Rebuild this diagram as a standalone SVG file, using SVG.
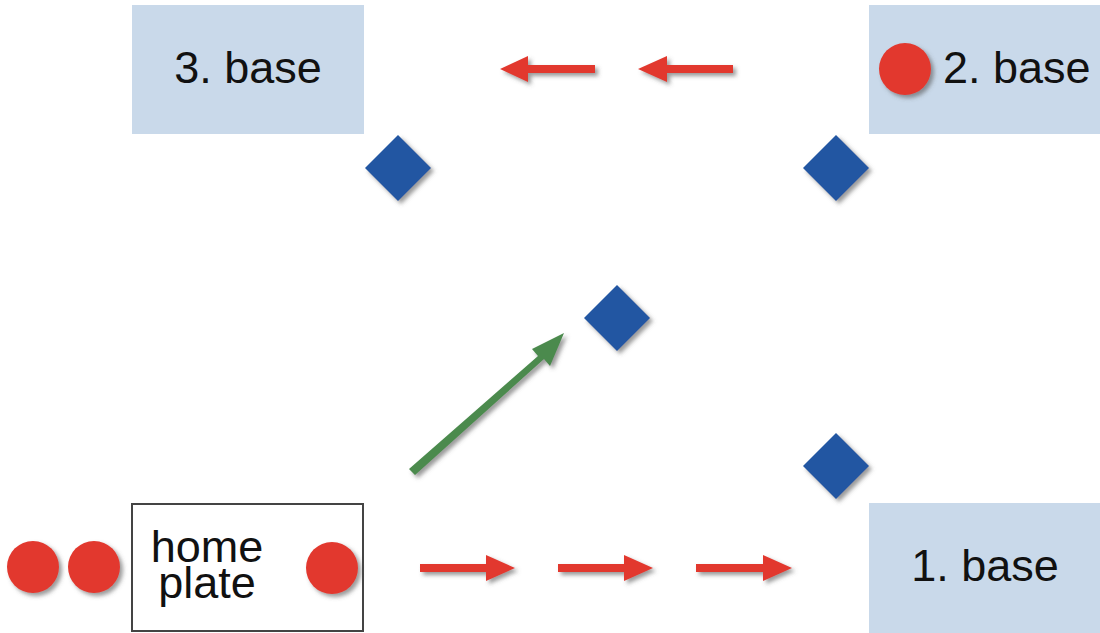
<svg xmlns="http://www.w3.org/2000/svg" width="1100" height="633" viewBox="0 0 1100 633">
<style>
.base{fill:#c9d9ea}
.lbl{font-family:"Liberation Sans",Arial,sans-serif;font-size:45px;fill:#111}
.runner{fill:#e2392f;filter:url(#sh)}
.fielder{fill:#2156a2;filter:url(#sh)}
.red{fill:#e2392f;filter:url(#sh)}
.green{fill:#4b8a4d;filter:url(#sh)}
</style>
<defs>
<filter id="sh" x="-30%" y="-30%" width="160%" height="160%">
<feDropShadow dx="3" dy="3" stdDeviation="2" flood-color="#555" flood-opacity="0.6"/>
</filter>
</defs>
<rect width="1100" height="633" fill="#fff"/>
<g id="base3">
<rect class="base" x="132" y="5" width="232" height="129"/>
<text class="lbl" x="248" y="83" text-anchor="middle">3. base</text>
</g>
<g id="base2">
<rect class="base" x="869" y="5" width="231" height="129"/>
<circle class="runner" cx="905" cy="69" r="26"/>
<text class="lbl" x="943" y="83">2. base</text>
</g>
<g id="base1">
<rect class="base" x="869" y="503" width="231" height="130"/>
<text class="lbl" x="985" y="581" text-anchor="middle">1. base</text>
</g>
<g id="homeplate">
<rect x="132" y="504" width="231" height="127" fill="#fff" stroke="#444" stroke-width="2"/>
<text class="lbl" x="207" y="562" text-anchor="middle">home</text>
<text class="lbl" x="207" y="598" text-anchor="middle">plate</text>
<circle class="runner" cx="332" cy="568" r="26"/>
</g>
<g id="runner1"><circle class="runner" cx="33" cy="567" r="26"/></g>
<g id="runner2"><circle class="runner" cx="94" cy="567" r="26"/></g>
<g id="fielder1"><polygon class="fielder" points="398,135 431,168 398,201 365,168"/></g>
<g id="fielder2"><polygon class="fielder" points="836,135 869,168 836,201 803,168"/></g>
<g id="fielder3"><polygon class="fielder" points="617,285 650,318 617,351 584,318"/></g>
<g id="fielder4"><polygon class="fielder" points="836,433 869,466 836,499 803,466"/></g>
<g id="connectors">
<polygon class="red" points="595,65 528,65 528,56 500,69 528,82 528,73 595,73"/>
<polygon class="red" points="733,65 667,65 667,56 638,69 667,82 667,73 733,73"/>
<polygon class="red" points="420,564 486,564 486,555 515,568 486,581 486,572 420,572"/>
<polygon class="red" points="558,564 624,564 624,555 653,568 624,581 624,572 558,572"/>
<polygon class="red" points="696,564 763,564 763,555 792,568 763,581 763,572 696,572"/>
<polygon class="green" points="409,469 538,356 532,349 564,333 550,366 544,359 415,475"/>
</g>
</svg>
